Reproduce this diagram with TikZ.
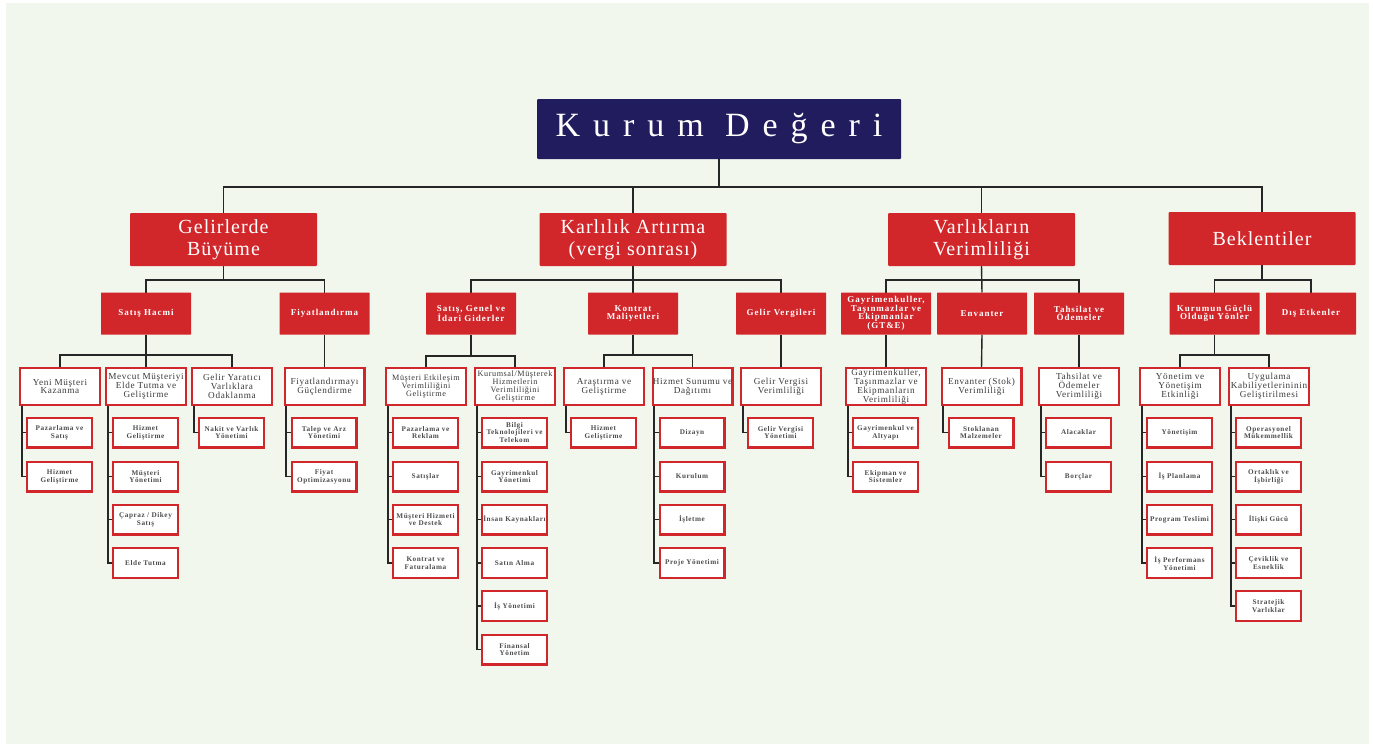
\documentclass[tikz,border=0pt]{standalone}
\usepackage{fontspec}
\setmainfont{Liberation Serif}
\newfontfamily\fT[LetterSpace=38]{Liberation Serif}
\newfontfamily\fA[LetterSpace=5]{Liberation Serif}
\newfontfamily\fB[LetterSpace=11]{Liberation Serif}
\newfontfamily\fC[LetterSpace=7]{Liberation Serif}
\newfontfamily\fD[LetterSpace=8]{Liberation Serif}
\definecolor{bgc}{HTML}{F2F7EE}
\definecolor{navy}{HTML}{211C5D}
\definecolor{myred}{HTML}{D1262A}
\definecolor{tx3}{HTML}{3A3A3A}
\definecolor{tx4}{HTML}{4D4D4D}
\definecolor{lnc}{HTML}{262626}
\pgfdeclarelayer{bg}\pgfdeclarelayer{lines}\pgfsetlayers{bg,lines,main}
\newcommand\myspine[2]{\foreach \c in {#2}{\draw[conn,line width=1.6pt] ([xshift=1.5pt]#1.south west) |- (\c.west);}}
\begin{document}
\begin{tikzpicture}[x=1pt,y=-1pt,
 lz/.style={fill=navy,text=white,rounded corners=1pt,minimum width=364pt,minimum height=60pt,inner sep=0pt,outer sep=0pt,font=\fT\fontsize{34}{38}\selectfont},
 la/.style={fill=myred,text=white,rounded corners=1pt,minimum width=187pt,minimum height=53pt,inner sep=0pt,outer sep=0pt,align=center,font=\fA\fontsize{20}{21.5}\selectfont},
 lb/.style={fill=myred,text=white,rounded corners=0.5pt,minimum width=90pt,minimum height=42pt,inner sep=0pt,outer sep=0pt,align=center,font=\fB\bfseries\fontsize{9}{8.5}\selectfont},
 lc/.style={draw=myred,line width=2.4pt,fill=white,text=tx3,minimum width=79.6pt,minimum height=36.6pt,inner sep=0pt,outer sep=0pt,align=center,font=\fC\fontsize{9.2}{8.9}\selectfont},
 lcs/.style={lc,font=\fC\fontsize{8.2}{8.2}\selectfont},
 ld/.style={draw=myred,line width=2.4pt,fill=white,text=tx4,minimum width=64.6pt,minimum height=29.6pt,inner sep=0pt,outer sep=0pt,align=center,font=\fD\bfseries\fontsize{7.2}{7.9}\selectfont},
 conn/.style={draw=lnc,line width=1.4pt}
]
\begin{pgfonlayer}{bg}
\fill[white] (0,0) rectangle (1373,744);
\fill[bgc] (6,3) rectangle (1369,744);
\end{pgfonlayer}
\useasboundingbox (0,0) rectangle (1373,744);

% level 0
\node[lz] (T) at (719,129) {Kurum Değeri};
% level 1
\node[la] (G1) at (223.5,239.5) {Gelirlerde\\Büyüme};
\node[la] (G2) at (633,239.5) {Karlılık Artırma\\(vergi sonrası)};
\node[la] (G3) at (981.5,239.5) {Varlıkların\\Verimliliği};
\node[la] (G4) at (1262,238.5) {Beklentiler};
% level 2
\node[lb] (S1) at (146,313.5) {Satış Hacmi};
\node[lb] (S2) at (324.5,313.5) {Fiyatlandırma};
\node[lb] (S3) at (471,313.5) {Satış, Genel ve\\İdari Giderler};
\node[lb] (S4) at (633,313.5) {Kontrat\\Maliyetleri};
\node[lb] (S5) at (781,313.5) {Gelir Vergileri};
\node[lb] (S6) at (886,313.5) {Gayrimenkuller,\\Taşınmazlar ve\\Ekipmanlar\\(GT\&E)};
\node[lb] (S7) at (982,313.5) {Envanter};
\node[lb] (S8) at (1079,313.5) {Tahsilat ve\\Ödemeler};
\node[lb] (S9) at (1214.5,313.5) {Kurumun Güçlü\\Olduğu Yönler};
\node[lb] (S10) at (1311,313.5) {Dış Etkenler};
% level 3
\node[lc] (A1) at (60,386.5) {Yeni Müşteri\\Kazanma};
\node[lc] (A2) at (146,386.5) {Mevcut Müşteriyi\\Elde Tutma ve\\Geliştirme};
\node[lc] (A3) at (232,386.5) {Gelir Yaratıcı\\Varlıklara\\Odaklanma};
\node[lc] (A4) at (324.5,386.5) {Fiyatlandırmayı\\Güçlendirme};
\node[lcs] (A5) at (426,386.5) {Müşteri Etkileşim\\Verimliliğini\\Geliştirme};
\node[lcs] (A6) at (515,386.5) {Kurumsal/Müşterek\\Hizmetlerin\\Verimliliğini\\Geliştirme};
\node[lc] (A7) at (604,386.5) {Araştırma ve\\Geliştirme};
\node[lc] (A8) at (692.5,386.5) {Hizmet Sunumu ve\\Dağıtımı};
\node[lc] (A9) at (781,386.5) {Gelir Vergisi\\Verimliliği};
\node[lc] (A10) at (886,386.5) {Gayrimenkuller,\\Taşınmazlar ve\\Ekipmanların\\Verimliliği};
\node[lc] (A11) at (981.5,386.5) {Envanter (Stok)\\Verimliliği};
\node[lc] (A12) at (1079,386.5) {Tahsilat ve\\Ödemeler\\Verimliliği};
\node[lc] (A13) at (1180,386.5) {Yönetim ve\\Yönetişim\\Etkinliği};
\node[lc] (A14) at (1269,386.5) {Uygulama\\Kabiliyetlerininin\\Geliştirilmesi};
% level 4
\node[ld] (B1a) at (59.5,432.5) {Pazarlama ve\\Satış};
\node[ld] (B1b) at (59.5,476.5) {Hizmet\\Geliştirme};
\node[ld] (B2a) at (145.5,432.5) {Hizmet\\Geliştirme};
\node[ld] (B2b) at (145.5,476.5) {Müşteri\\Yönetimi};
\node[ld] (B2c) at (145.5,519.5) {Çapraz / Dikey\\Satış};
\node[ld] (B2d) at (145.5,563) {Elde Tutma};
\node[ld] (B3a) at (231.5,432.5) {Nakit ve Varlık\\Yönetimi};
\node[ld] (B4a) at (324,432.5) {Talep ve Arz\\Yönetimi};
\node[ld] (B4b) at (324,476.5) {Fiyat\\Optimizasyonu};
\node[ld] (B5a) at (425.5,432.5) {Pazarlama ve\\Reklam};
\node[ld] (B5b) at (425.5,476.5) {Satışlar};
\node[ld] (B5c) at (425.5,519.5) {Müşteri Hizmeti\\ve Destek};
\node[ld] (B5d) at (425.5,563) {Kontrat ve\\Faturalama};
\node[ld] (B6a) at (514.5,432.5) {Bilgi\\Teknolojileri ve\\Telekom};
\node[ld] (B6b) at (514.5,476.5) {Gayrimenkul\\Yönetimi};
\node[ld] (B6c) at (514.5,519.5) {İnsan Kaynakları};
\node[ld] (B6d) at (514.5,563) {Satın Alma};
\node[ld] (B6e) at (514.5,606) {İş Yönetimi};
\node[ld] (B6f) at (514.5,649.5) {Finansal\\Yönetim};
\node[ld] (B7a) at (603.5,432.5) {Hizmet\\Geliştirme};
\node[ld] (B8a) at (692,432.5) {Dizayn};
\node[ld] (B8b) at (692,476.5) {Kurulum};
\node[ld] (B8c) at (692,519.5) {İşletme};
\node[ld] (B8d) at (692,563) {Proje Yönetimi};
\node[ld] (B9a) at (780.5,432.5) {Gelir Vergisi\\Yönetimi};
\node[ld] (B10a) at (885.5,432.5) {Gayrimenkul ve\\Altyapı};
\node[ld] (B10b) at (885.5,476.5) {Ekipman ve\\Sistemler};
\node[ld] (B11a) at (981,432.5) {Stoklanan\\Malzemeler};
\node[ld] (B12a) at (1078.5,432.5) {Alacaklar};
\node[ld] (B12b) at (1078.5,476.5) {Borçlar};
\node[ld] (B13a) at (1179.5,432.5) {Yönetişim};
\node[ld] (B13b) at (1179.5,476.5) {İş Planlama};
\node[ld] (B13c) at (1179.5,519.5) {Program Teslimi};
\node[ld] (B13d) at (1179.5,563) {İş Performans\\Yönetimi};
\node[ld] (B14a) at (1268.5,432.5) {Operasyonel\\Mükemmellik};
\node[ld] (B14b) at (1268.5,476.5) {Ortaklık ve\\İşbirliği};
\node[ld] (B14c) at (1268.5,519.5) {İlişki Gücü};
\node[ld] (B14d) at (1268.5,563) {Çeviklik ve\\Esneklik};
\node[ld] (B14e) at (1268.5,606) {Stratejik\\Varlıklar};

\begin{pgfonlayer}{lines}
% 0 -> 1
\draw[conn] (T.south) -- (T.south |- 0,187);
\draw[conn] (G1.north) |- (T.south |- 0,187) -| (G4.north);
\draw[conn] (G2.north) -- (G2.north |- 0,187);
\draw[conn] (G3.north) -- (G3.north |- 0,187);
% 1 -> 2
\draw[conn] (G1.south) -- (G1.south |- 0,280);
\draw[conn] (S1.north) |- (G1.south |- 0,280) -| (S2.north);
\draw[conn] (G2.south) -- (S4.north);
\draw[conn] (S3.north) |- (G2.south |- 0,280) -| (S5.north);
\draw[conn] (G3.south) -- (S7.north);
\draw[conn] (S6.north) |- (G3.south |- 0,280) -| (S8.north);
\draw[conn] (G4.south) -- (G4.south |- 0,280);
\draw[conn] (S9.north) |- (G4.south |- 0,280) -| (S10.north);
% 2 -> 3
\draw[conn] (S1.south) -- (A2.north);
\draw[conn] (A1.north) |- (S1.south |- 0,355) -| (A3.north);
\draw[conn] (S2.south) -- (A4.north);
\draw[conn] (S3.south) -- (S3.south |- 0,356);
\draw[conn] (A5.north) |- (S3.south |- 0,356) -| (A6.north);
\draw[conn] (S4.south) -- (S4.south |- 0,355);
\draw[conn] (A7.north) |- (S4.south |- 0,355) -| (A8.north);
\draw[conn] (S5.south) -- (A9.north);
\draw[conn] (S6.south) -- (A10.north);
\draw[conn] (S7.south) -- (A11.north);
\draw[conn] (S8.south) -- (A12.north);
\draw[conn] (S9.south) -- (S9.south |- 0,355);
\draw[conn] (A13.north) |- (S9.south |- 0,355) -| (A14.north);
% 3 -> 4
\myspine{A1}{B1a,B1b}
\myspine{A2}{B2a,B2b,B2c,B2d}
\myspine{A3}{B3a}
\myspine{A4}{B4a,B4b}
\myspine{A5}{B5a,B5b,B5c,B5d}
\myspine{A6}{B6a,B6b,B6c,B6d,B6e,B6f}
\myspine{A7}{B7a}
\myspine{A8}{B8a,B8b,B8c,B8d}
\myspine{A9}{B9a}
\myspine{A10}{B10a,B10b}
\myspine{A11}{B11a}
\myspine{A12}{B12a,B12b}
\myspine{A13}{B13a,B13b,B13c,B13d}
\myspine{A14}{B14a,B14b,B14c,B14d,B14e}
\end{pgfonlayer}
\end{tikzpicture}
\end{document}
